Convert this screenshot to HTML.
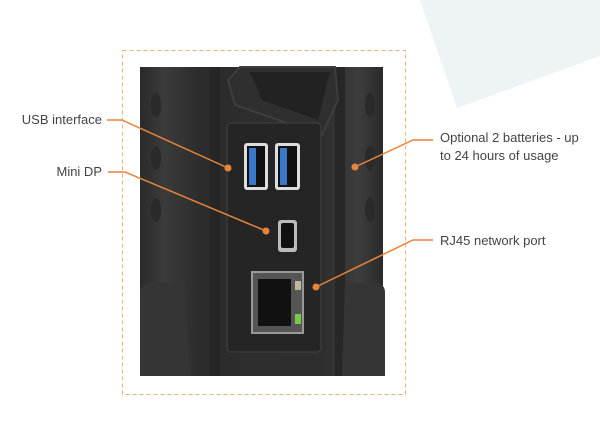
<!DOCTYPE html>
<html><head><meta charset="utf-8"><style>
html,body{margin:0;padding:0;background:#fff;}
svg{display:block}
text{font-family:"Liberation Sans",sans-serif;font-size:13px;fill:#444}
</style></head><body>
<svg width="600" height="423" viewBox="0 0 600 423" xmlns="http://www.w3.org/2000/svg">
<defs>
<linearGradient id="body" x1="0" x2="1" y1="0" y2="0">
<stop offset="0" stop-color="#2a2a2a"/><stop offset="0.1" stop-color="#3b3b3b"/><stop offset="0.25" stop-color="#2c2c2c"/><stop offset="0.75" stop-color="#2e2e2e"/><stop offset="0.9" stop-color="#3d3d3d"/><stop offset="1" stop-color="#2a2a2a"/>
</linearGradient>
</defs>
<polygon points="420,0 600,0 600,56 457,108" fill="#eef3f6"/>
<rect x="122.5" y="50.5" width="283" height="344" fill="none" stroke="#f0b07a" stroke-width="1" stroke-dasharray="4,3"/>
<rect x="140" y="67" width="243" height="309" fill="url(#body)"/>
<rect x="210" y="67" width="10" height="309" fill="#262626"/>
<rect x="335" y="67" width="10" height="309" fill="#272727"/>
<g fill="#2a2a2a">
<ellipse cx="156" cy="105" rx="5" ry="12"/><ellipse cx="156" cy="158" rx="5" ry="12"/><ellipse cx="156" cy="210" rx="5" ry="12"/>
<ellipse cx="370" cy="105" rx="5" ry="12"/><ellipse cx="370" cy="158" rx="5" ry="12"/><ellipse cx="370" cy="210" rx="5" ry="12"/>
</g>
<path d="M140,292 Q140,283 152,283 L185,283 L190,376 L140,376 Z" fill="#353535"/>
<path d="M385,292 Q385,283 373,283 L345,283 L342,376 L385,376 Z" fill="#353535"/>
<path d="M228,80 L240,67 L335,67 L338,100 L322,135 L235,105 Z" fill="#2f2f2f" stroke="#3e3e3e" stroke-width="2"/>
<path d="M250,72 L330,72 L318,120 L262,100 Z" fill="#222"/>
<rect x="227" y="123" width="94" height="229" rx="4" fill="#252525" stroke="#3a3a3a" stroke-width="1.5"/>
<rect x="244" y="143" width="24" height="47" rx="3" fill="#ddd"/>
<rect x="247" y="146" width="18" height="41" fill="#111"/>
<rect x="249" y="148" width="7" height="37" fill="#3a78c9"/>
<rect x="275" y="143" width="25" height="47" rx="3" fill="#ddd"/>
<rect x="278" y="146" width="19" height="41" fill="#111"/>
<rect x="280" y="148" width="7" height="37" fill="#3a78c9"/>
<rect x="278" y="220" width="19" height="32" rx="3" fill="#bbb"/>
<rect x="281" y="223" width="13" height="25" rx="2" fill="#111"/>
<rect x="252" y="272" width="51" height="61" fill="#555" stroke="#999" stroke-width="2"/>
<rect x="258" y="279" width="33" height="47" fill="#111"/>
<rect x="295" y="281" width="6" height="9" fill="#bb9" /><rect x="295" y="314" width="6" height="10" fill="#7c4"/>
<g stroke="#e8843a" stroke-width="1.5" fill="none">
<polyline points="107,120 122,120 228,168"/>
<polyline points="108,172 125,172 266,231"/>
<polyline points="433,140 413,140 355,167"/>
<polyline points="433,240 413,240 316,287"/>
</g>
<g fill="#e8843a">
<circle cx="228" cy="168" r="3.5"/><circle cx="266" cy="231" r="3.5"/><circle cx="355" cy="167" r="3.5"/><circle cx="316" cy="287" r="3.5"/>
</g>
<text x="102" y="124" text-anchor="end">USB interface</text>
<text x="102" y="176" text-anchor="end">Mini DP</text>
<text x="440" y="142">Optional 2 batteries - up</text>
<text x="440" y="160">to 24 hours of usage</text>
<text x="440" y="245">RJ45 network port</text>
</svg>
</body></html>
